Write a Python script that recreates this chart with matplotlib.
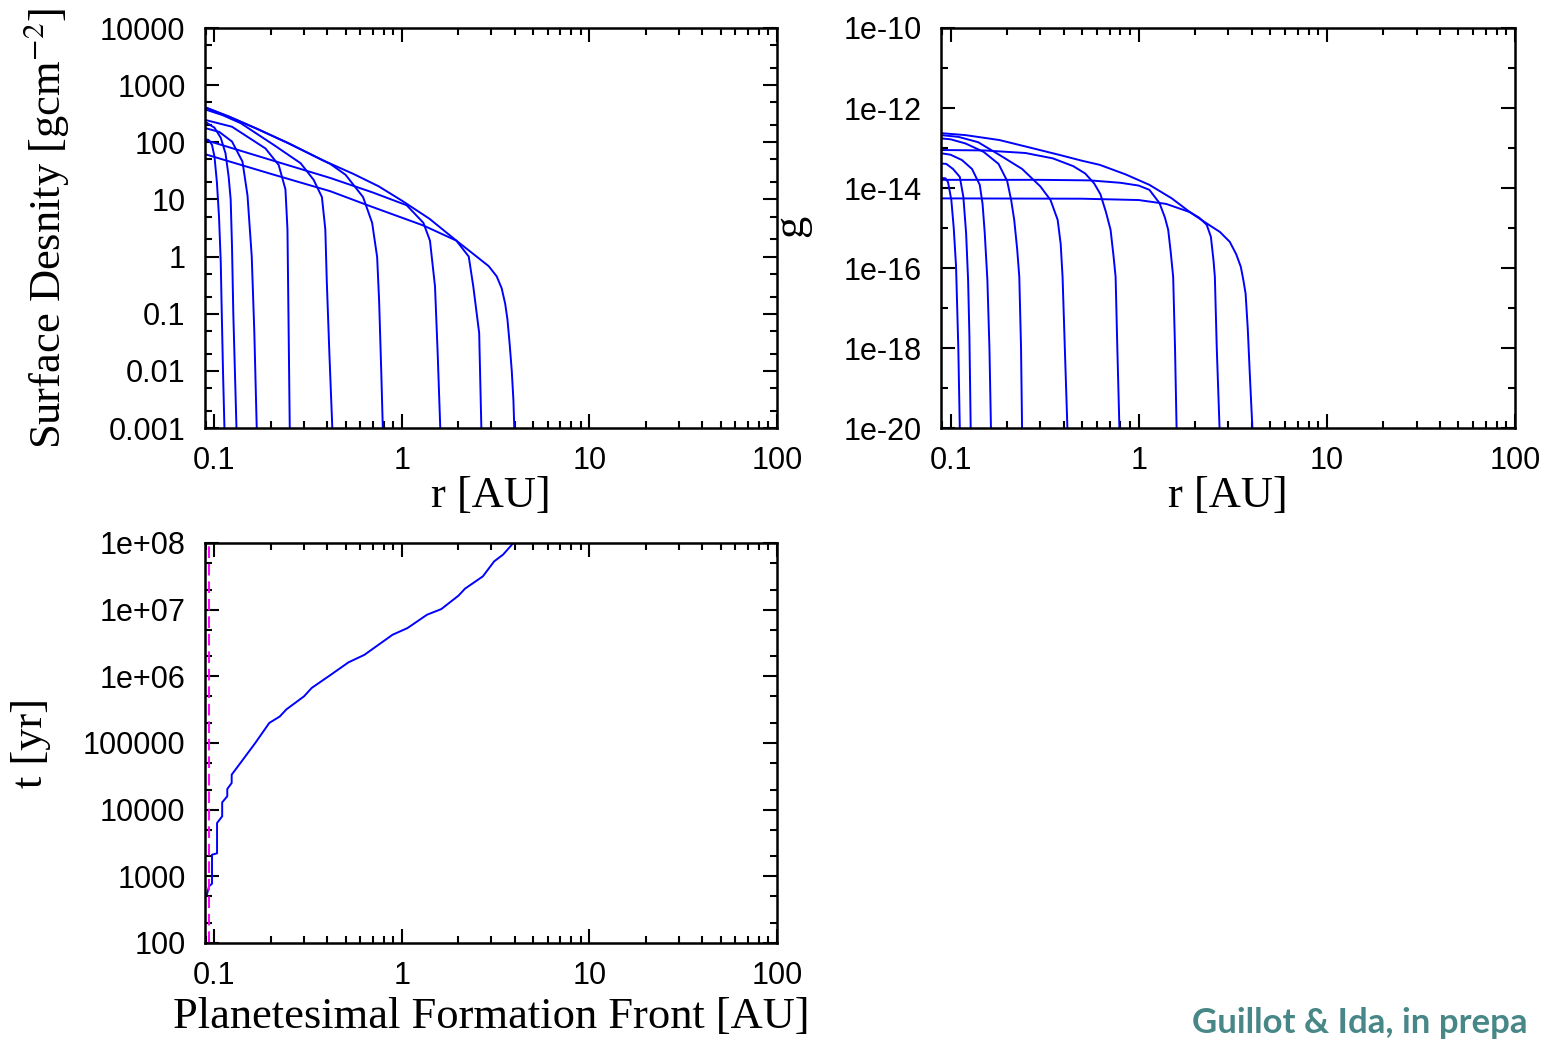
import numpy as np
import matplotlib.pyplot as plt
from matplotlib.ticker import FixedLocator, LogLocator, NullFormatter

plt.rcParams['font.family'] = ['Liberation Sans', 'DejaVu Sans']
plt.rcParams['mathtext.fontset'] = 'stix'

W, H = 1556, 1040
BLUE = '#0000ff'

# ---- data: surface density of solids (r [AU], Sigma [g cm^-2]) ----
sigma_curves = [
    ([0.089, 0.093, 0.097, 0.1, 0.103, 0.1057, 0.108, 0.109, 0.111, 0.113],
     [113, 110, 90, 56, 20, 5, 0.8, 0.17, 0.01, 0.001]),
    ([0.089, 0.1, 0.108, 0.1145, 0.119, 0.122, 0.124, 0.126, 0.131],
     [229, 180, 120, 64, 25, 9.9, 1.5, 0.1, 0.001]),
    ([0.0898, 0.106, 0.124, 0.141, 0.15, 0.158, 0.163, 0.168],
     [176, 152, 103, 46, 11.7, 1, 0.05, 0.001]),
    ([0.0898, 0.124, 0.187, 0.22, 0.239, 0.245, 0.248, 0.252],
     [245, 187, 78, 40, 15, 3, 0.1, 0.001]),
    ([0.0887, 0.11, 0.138, 0.207, 0.288, 0.338, 0.374, 0.39, 0.397, 0.41, 0.425],
     [378, 300, 216, 90, 43, 22, 11, 3, 0.38, 0.02, 0.001]),
    ([0.089, 0.12, 0.17, 0.25, 0.415, 0.5, 0.62, 0.693, 0.737, 0.755, 0.775, 0.79],
     [410, 280, 170, 95, 41.7, 27, 11, 3.9, 0.98, 0.17, 0.01, 0.001]),
    ([0.089, 0.2, 0.415, 0.7, 1.06, 1.3, 1.41, 1.5, 1.55, 1.6],
     [110, 49, 23.7, 13.2, 7.9, 3.9, 1.9, 0.3, 0.02, 0.001]),
    ([0.089, 0.2, 0.415, 0.65, 1.3, 1.95, 2.27, 2.4, 2.58, 2.65],
     [62, 28, 13.9, 8, 3.5, 1.9, 1.0, 0.3, 0.046, 0.001]),
    ([0.089, 0.12, 0.17, 0.25, 0.38, 0.55, 0.75, 1.0, 1.4, 1.95, 2.5, 2.9, 3.2, 3.4, 3.55, 3.65,
      3.75, 3.85, 3.93, 3.97],
     [410, 280, 170, 95, 48, 28, 17, 9.5, 4.6, 1.9, 1.0, 0.68, 0.45, 0.28, 0.15, 0.08,
      0.03, 0.01, 0.003, 0.001]),
]

# ---- data: density (r [AU], rho) ----
rho_curves = [
    ([0.089, 0.094, 0.097, 0.101, 0.104, 0.107, 0.11, 0.112],
     [1.78e-14, 1.75e-14, 1.4e-14, 5e-15, 1e-15, 1.1e-16, 1e-18, 1e-20]),
    ([0.089, 0.095, 0.103, 0.112, 0.117, 0.121, 0.124, 0.126, 0.128],
     [4.1e-14, 4e-14, 3e-14, 1.9e-14, 6e-15, 7.5e-16, 5e-17, 2e-18, 1e-20]),
    ([0.089, 0.1, 0.115, 0.13, 0.143, 0.148, 0.152, 0.157, 0.161, 0.164],
     [7.4e-14, 6.8e-14, 5e-14, 3e-14, 1.2e-14, 4e-15, 7.5e-16, 5e-17, 1e-18, 1e-20]),
    ([0.089, 0.1, 0.12, 0.15, 0.18, 0.2, 0.21, 0.218, 0.226, 0.232, 0.237, 0.24],
     [1.74e-13, 1.65e-13, 1.3e-13, 8e-14, 4e-14, 1.5e-14, 5e-15, 1.6e-15, 3e-16, 6e-17, 1e-18, 1e-20]),
    ([0.089, 0.11, 0.14, 0.184, 0.24, 0.3, 0.34, 0.371, 0.385, 0.394, 0.405, 0.418],
     [2.1e-13, 1.9e-13, 1.4e-13, 6.5e-14, 3e-14, 1.1e-14, 5e-15, 1.6e-15, 4e-16, 6e-17, 1e-18, 1e-20]),
    ([0.089, 0.15, 0.25, 0.35, 0.45, 0.52, 0.58, 0.626, 0.67, 0.709, 0.735, 0.754, 0.77, 0.79],
     [8.9e-14, 8.7e-14, 7.5e-14, 5.5e-14, 3.5e-14, 2.3e-14, 1.3e-14, 7e-15, 2.5e-15, 9e-16, 2e-16,
      6e-17, 1e-18, 1e-20]),
    ([0.089, 0.3, 0.55, 0.8, 1.0, 1.14, 1.29, 1.38, 1.435, 1.48, 1.525, 1.56, 1.59],
     [1.6e-14, 1.6e-14, 1.55e-14, 1.35e-14, 1.15e-14, 9e-15, 4.2e-15, 1.8e-15, 9e-16, 2.5e-16,
      6e-17, 1e-18, 1e-20]),
    ([0.089, 0.5, 1.0, 1.4, 1.87, 2.1, 2.3, 2.42, 2.5, 2.54, 2.6, 2.69],
     [5.5e-15, 5.4e-15, 5e-15, 4e-15, 2.5e-15, 1.8e-15, 1.2e-15, 6e-16, 1.5e-16, 6e-17, 1e-18, 1e-20]),
    ([0.089, 0.12, 0.182, 0.27, 0.38, 0.5, 0.62, 0.85, 1.14, 1.5, 1.87, 2.3, 2.7, 3.05, 3.3,
      3.49, 3.6, 3.7, 3.8, 3.9, 4.02],
     [2.35e-13, 2.1e-13, 1.58e-13, 1e-13, 6.7e-14, 4.8e-14, 3.8e-14, 2.2e-14, 1.2e-14, 5.5e-15,
      2.5e-15, 1.3e-15, 8e-16, 4.5e-16, 2.2e-16, 1.07e-16, 5e-17, 2.3e-17, 3e-18, 2e-19, 1e-20]),
]

# ---- data: planetesimal formation front ----
front_r = [0.0911, 0.0935, 0.097, 0.097, 0.1032, 0.1032, 0.1099, 0.1099, 0.117, 0.117, 0.1235,
           0.1235, 0.1375, 0.165, 0.196, 0.223, 0.242, 0.30, 0.33, 0.41, 0.518, 0.63, 0.89,
           1.07, 1.36, 1.62, 2.0, 2.17, 2.7, 3.1, 3.46, 4.0]
front_t = [531, 708, 776, 2113, 2213, 6310, 7943, 12882, 15850, 20417, 25119,
           33497, 50119, 1.0e5, 2.0e5, 2.5e5, 3.2e5, 5.0e5, 6.7e5, 1.02e6, 1.62e6, 2.1e6, 4.2e6,
           5.3e6, 8.4e6, 1.02e7, 1.62e7, 2.07e7, 3.16e7, 5.3e7, 6.7e7, 1.06e8]
inner_edge_r = 0.0935

XMIN, XMAX = 0.089, 100
x_ticks = [0.1, 1, 10, 100]
x_labels = ['0.1', '1', '10', '100']
sig_ticks = [1e-3, 1e-2, 1e-1, 1, 10, 100, 1000, 1e4]
sig_labels = ['0.001', '0.01', '0.1', '1', '10', '100', '1000', '10000']
rho_ticks = [1e-20, 1e-18, 1e-16, 1e-14, 1e-12, 1e-10]
rho_labels = ['1e-20', '1e-18', '1e-16', '1e-14', '1e-12', '1e-10']
rho_minor = [1e-19, 1e-17, 1e-15, 1e-13, 1e-11]
t_ticks = [100, 1e3, 1e4, 1e5, 1e6, 1e7, 1e8]
t_labels = ['100', '1000', '10000', '100000', '1e+06', '1e+07', '1e+08']


def px_axes(l, t, r, b):
    return fig.add_axes([l / W, 1 - b / H, (r - l) / W, (b - t) / H])


def style(ax):
    ax.set_xscale('log')
    ax.set_yscale('log')
    ax.set_xlim(XMIN, XMAX)
    ax.xaxis.set_major_locator(FixedLocator(x_ticks))
    ax.set_xticklabels(x_labels)
    ax.xaxis.set_minor_locator(LogLocator(base=10, subs=np.arange(2, 10), numticks=20))
    ax.xaxis.set_minor_formatter(NullFormatter())
    ax.tick_params(which='both', direction='in', top=True, right=True, width=1.5, labelsize=22)
    ax.tick_params(which='major', length=10)
    ax.tick_params(which='minor', length=5)
    ax.tick_params(axis='y', pad=14)
    ax.tick_params(axis='x', pad=13)
    for s in ax.spines.values():
        s.set_linewidth(1.8)


fig = plt.figure(figsize=(W / 100, H / 100), dpi=100)
serif = {'family': 'Liberation Serif', 'size': 32}

# top-left: surface density
ax1 = px_axes(205, 28, 777, 428)
for r, s in sigma_curves:
    ax1.plot(r, s, color=BLUE, lw=1.4)
style(ax1)
ax1.set_ylim(1e-3, 1e4)
ax1.yaxis.set_major_locator(FixedLocator(sig_ticks))
ax1.set_yticklabels(sig_labels)
ax1.yaxis.set_minor_locator(LogLocator(base=10, subs=(2, 5), numticks=20))
ax1.yaxis.set_minor_formatter(NullFormatter())
ax1.set_xlabel('r [AU]', fontdict=serif, labelpad=0)
ax1.set_ylabel(r'Surface Desnity [gcm$^{-2}$]', fontdict=serif)
ax1.yaxis.set_label_coords(-0.235, 0.5)

# top-right: density
ax2 = px_axes(941, 28, 1515, 428)
for r, s in rho_curves:
    ax2.plot(r, s, color=BLUE, lw=1.4)
style(ax2)
ax2.set_ylim(1e-20, 1e-10)
ax2.yaxis.set_major_locator(FixedLocator(rho_ticks))
ax2.set_yticklabels(rho_labels)
ax2.yaxis.set_minor_locator(FixedLocator(rho_minor))
ax2.yaxis.set_minor_formatter(NullFormatter())
ax2.set_xlabel('r [AU]', fontdict=serif, labelpad=0)
fig.text(791 / W, 1 - 226 / H, 'g', rotation=90, ha='center', va='center',
         family='Liberation Serif', size=32)

# bottom: formation front
ax3 = px_axes(205, 543, 777, 943)
ax3.plot(front_r, front_t, color=BLUE, lw=1.4)
ax3.axvline(inner_edge_r, color='#ff00ff', lw=1.4, ls=(0, (6, 3)))
style(ax3)
ax3.set_ylim(100, 1e8)
ax3.yaxis.set_major_locator(FixedLocator(t_ticks))
ax3.set_yticklabels(t_labels)
ax3.yaxis.set_minor_locator(LogLocator(base=10, subs=(2, 5), numticks=20))
ax3.yaxis.set_minor_formatter(NullFormatter())
ax3.set_xlabel('Planetesimal Formation Front [AU]', fontdict=serif, labelpad=4)
ax3.set_ylabel('t [yr]', fontdict=serif)
ax3.yaxis.set_label_coords(-0.27, 0.5)

fig.text(1192 / W, 1 - 1039 / H, 'Guillot & Ida, in prepa', color='#478787',
         family='Lato', weight='bold', size=25, ha='left', va='bottom')

plt.savefig('out.png', dpi=100)
plt.close()
